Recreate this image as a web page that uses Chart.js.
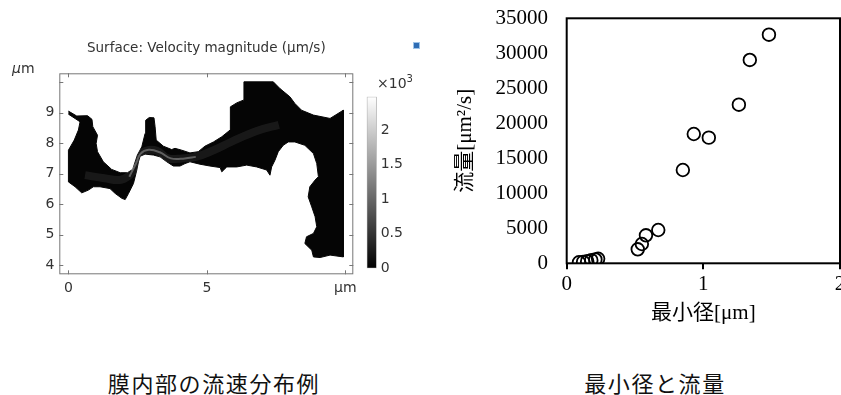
<!DOCTYPE html>
<html>
<head>
<meta charset="utf-8">
<script src="https://cdn.jsdelivr.net/npm/chart.js@4.4.1/dist/chart.umd.min.js"></script>
<style>
  body { margin: 0; width: 841px; height: 395px; background: #fff; position: relative; overflow: hidden; }
  canvas { position: absolute; }
  .txt { position: absolute; white-space: nowrap; }
  .caption { font-family: 'Noto Sans CJK JP', sans-serif; font-size: 22px; letter-spacing: 1.6px; color: #111; transform: translate(-50%, -50%); }
  .comsol { font-family: 'DejaVu Sans', sans-serif; font-size: 14px; color: #333; }
</style>
</head>
<body>
<canvas id="poreChart" width="360" height="300" style="left:0;top:0"></canvas>
<canvas id="barChart" width="70" height="200" style="left:355px;top:80px"></canvas>
<canvas id="flowChart" width="401" height="330" style="left:440px;top:0"></canvas>

<div class="txt comsol" style="left:12px;top:60px"><i>μ</i>m</div>
<div class="txt comsol" style="left:377px;top:73px">×10<sup style="font-size:10px">3</sup></div>
<div class="txt" style="left:413px;top:42px;width:5px;height:5px;background:#2f6db5;border:1px solid #9fc4e8"></div>

<div class="txt caption" style="left:214px;top:382px">膜内部の流速分布例</div>
<div class="txt caption" style="left:655px;top:382px">最小径と流量</div>

<script>
// pore outline (um)
const poreX = [0, 0.30, 0.69, 0.85, 0.88, 1.05, 1.00, 1.05, 1.26, 1.56, 1.87, 2.13, 2.32, 2.41, 2.49, 2.65,
    2.77, 2.79, 2.92, 3.09, 3.13, 3.17, 3.43, 3.73, 3.85, 4.09, 4.39, 4.69, 4.93, 5.24, 5.54, 5.84,
    5.86, 5.84, 6.08, 6.32, 6.34, 7.40, 7.64, 8.00, 8.18, 8.42, 8.85, 9.45, 9.93, 9.93, 9.45, 9.09,
    8.85, 8.79, 8.54, 8.60, 8.85, 8.97, 8.91, 8.79, 8.66, 8.72, 8.91, 9.03, 8.97, 8.85, 8.54, 8.18,
    7.94, 7.76, 7.58, 7.46, 7.34, 7.28, 7.16, 6.80, 6.44, 6.08, 5.72, 5.54, 5.48, 5.11, 4.75, 4.39,
    4.21, 4.03, 3.79, 3.55, 3.31, 3.07, 2.77, 2.59, 2.53, 2.47, 2.35, 2.17, 2.05, 1.93, 1.69, 1.50,
    1.14, 0.90, 0.72, 0.48, 0.24, 0, 0, 0.21, 0.36, 0.42, 0];
const poreY = [9.05, 8.89, 8.90, 8.78, 8.54, 8.26, 7.99, 7.72, 7.39, 7.14, 7.03, 7.03, 7.14, 7.39, 7.61, 7.88,
    8.32, 8.75, 8.84, 8.83, 8.54, 8.10, 7.90, 7.79, 7.83, 7.77, 7.68, 7.72, 7.90, 8.04, 8.21, 8.43,
    8.75, 9.19, 9.32, 9.41, 10.01, 10.01, 9.79, 9.52, 9.30, 9.08, 8.92, 8.81, 9.08, 4.27, 4.33, 4.25,
    4.27, 4.49, 4.71, 4.93, 5.04, 5.26, 5.59, 5.91, 6.24, 6.57, 6.79, 6.90, 7.33, 7.66, 7.93, 8.04,
    8.04, 7.93, 7.72, 7.44, 7.22, 6.95, 7.12, 7.22, 7.28, 7.22, 7.22, 7.06, 7.20, 7.25, 7.31, 7.39,
    7.33, 7.25, 7.25, 7.39, 7.55, 7.61, 7.64, 7.57, 7.39, 7.12, 6.68, 6.35, 6.15, 6.19, 6.35, 6.51,
    6.57, 6.57, 6.46, 6.37, 6.57, 6.73, 7.77, 8.10, 8.43, 8.70, 8.95];

// faster flow path through the narrow channel
const streakX = [0.6, 1.3, 1.9, 2.3, 2.5, 2.8, 3.2, 3.6, 4.1, 4.6, 5.2, 5.9, 6.8, 7.6];
const streakY = [6.95, 6.85, 6.8, 7.05, 7.55, 7.75, 7.75, 7.5, 7.5, 7.55, 7.75, 8.05, 8.4, 8.6];
const fastX = [2.2, 2.45, 2.6, 2.9, 3.3, 3.7, 4.2, 4.6];
const fastY = [6.9, 7.35, 7.65, 7.78, 7.7, 7.5, 7.5, 7.55];

const colorbarMax = 2.48;
const colorbarTicks = [0, 0.5, 1, 1.5, 2];

// minimum diameter [um] vs flow [um2/s]
const minDiameter = [0.09, 0.12, 0.15, 0.18, 0.21, 0.23, 0.52, 0.55, 0.58, 0.67, 0.85, 0.93, 1.04, 1.26, 1.34, 1.48];
const flowRate = [150, 200, 300, 450, 550, 650, 2000, 2760, 4000, 4760, 13330, 18470, 17950, 22660, 29050, 32660];

const toPoints = (xs, ys) => xs.map((x, i) => ({ x: x, y: ys[i] }));

const fixWidth = (w) => (scale) => { scale.width = w; scale.paddingTop = 0; scale.paddingBottom = 0; };
const fixHeight = (h) => (scale) => { scale.height = h; scale.paddingLeft = 0; scale.paddingRight = 0; };

const comsolFont = { family: "'DejaVu Sans', sans-serif", size: 14 };

// frame with small inner ticks, like the comsol plot
const comsolFrame = {
    id: 'comsolFrame',
    afterDraw(chart) {
        const { ctx, chartArea: a, scales: { x, y } } = chart;
        ctx.save();
        ctx.strokeStyle = '#777';
        ctx.lineWidth = 1;
        ctx.strokeRect(a.left + 0.5, a.top + 0.5, a.width - 1, a.height - 1);
        ctx.beginPath();
        x.ticks.forEach((t) => {
            const px = Math.round(x.getPixelForValue(t.value)) + 0.5;
            ctx.moveTo(px, a.bottom); ctx.lineTo(px, a.bottom - 4);
            ctx.moveTo(px, a.top); ctx.lineTo(px, a.top + 4);
        });
        y.ticks.forEach((t) => {
            const py = Math.round(y.getPixelForValue(t.value)) + 0.5;
            ctx.moveTo(a.left, py); ctx.lineTo(a.left + 4, py);
            ctx.moveTo(a.right, py); ctx.lineTo(a.right - 4, py);
        });
        ctx.stroke();
        ctx.restore();
    },
};

new Chart(document.getElementById('poreChart'), {
    type: 'scatter',
    data: {
        datasets: [
            {
                data: toPoints(poreX, poreY),
                order: 3,
                showLine: true,
                fill: 'shape',
                backgroundColor: '#050505',
                borderColor: '#050505',
                borderWidth: 1,
                pointRadius: 0,
            },
            {
                data: toPoints(streakX, streakY),
                order: 2,
                showLine: true,
                tension: 0.4,
                borderColor: 'rgba(255,255,255,0.08)',
                borderWidth: 8,
                pointRadius: 0,
            },
            {
                data: toPoints(fastX, fastY),
                order: 1,
                showLine: true,
                tension: 0.4,
                borderColor: 'rgba(230,230,230,0.35)',
                borderWidth: 2,
                pointRadius: 0,
            },
        ],
    },
    options: {
        responsive: false,
        animation: false,
        layout: { autoPadding: false, padding: { left: 0, right: 6.7, top: 40, bottom: 0 } },
        plugins: {
            legend: { display: false },
            tooltip: { enabled: false },
            title: {
                display: true,
                text: 'Surface: Velocity magnitude (μm/s)',
                fullSize: false,
                color: '#333',
                font: { family: "'DejaVu Sans', sans-serif", size: 13.5, weight: 'normal' },
                padding: { top: 0, bottom: 17.1 },
            },
        },
        scales: {
            x: {
                min: -0.33,
                max: 10.29,
                afterFit: fixHeight(25.7),
                grid: { display: false, drawTicks: false },
                border: { display: false },
                ticks: {
                    stepSize: 5,
                    includeBounds: false,
                    padding: 6,
                    color: '#333',
                    font: comsolFont,
                    callback: (v) => (v === 10 ? 'μm' : v),
                },
            },
            y: {
                min: 3.7,
                max: 10.29,
                afterFit: fixWidth(59.3),
                grid: { display: false, drawTicks: false },
                border: { display: false },
                ticks: {
                    stepSize: 1,
                    includeBounds: false,
                    padding: 5,
                    color: '#333',
                    font: comsolFont,
                    callback: (v) => (v === 10 ? '' : v),
                },
            },
        },
    },
    plugins: [comsolFrame],
});

new Chart(document.getElementById('barChart'), {
    type: 'bar',
    data: {
        labels: [''],
        datasets: [{
            data: [colorbarMax],
            barPercentage: 1,
            categoryPercentage: 1,
            borderColor: '#aaa',
            borderWidth: 1,
            borderSkipped: false,
            backgroundColor: (ctx) => {
                const a = ctx.chart.chartArea;
                if (!a) return '#000';
                const g = ctx.chart.ctx.createLinearGradient(0, a.bottom, 0, a.top);
                g.addColorStop(0, '#000');
                g.addColorStop(1, '#fff');
                return g;
            },
        }],
    },
    options: {
        responsive: false,
        animation: false,
        layout: { autoPadding: false, padding: { left: 11.7, right: 0, top: 16.7, bottom: 11.7 } },
        plugins: { legend: { display: false }, tooltip: { enabled: false } },
        scales: {
            x: { display: false },
            y: {
                position: 'right',
                min: 0,
                max: colorbarMax,
                afterFit: fixWidth(48.3),
                afterBuildTicks: (scale) => { scale.ticks = colorbarTicks.map((v) => ({ value: v })); },
                grid: { display: false, drawTicks: false },
                border: { display: false },
                ticks: { padding: 4, color: '#333', font: comsolFont, callback: (v) => String(v) },
            },
        },
    },
});

const serif = "'Liberation Serif', 'Times New Roman', 'Noto Sans CJK JP', serif";

// box around the plot area
const boxFrame = {
    id: 'boxFrame',
    beforeDatasetsDraw(chart) {
        const { ctx, chartArea: a } = chart;
        ctx.save();
        ctx.strokeStyle = '#000';
        ctx.lineWidth = 2;
        ctx.strokeRect(a.left, a.top, a.width, a.height);
        ctx.restore();
    },
};

new Chart(document.getElementById('flowChart'), {
    type: 'scatter',
    data: {
        datasets: [{
            data: toPoints(minDiameter, flowRate),
            pointStyle: 'circle',
            pointRadius: 6.3,
            borderWidth: 1.8,
            borderColor: '#000',
            backgroundColor: 'rgba(0,0,0,0)',
        }],
    },
    options: {
        responsive: false,
        animation: false,
        layout: { autoPadding: false, padding: { left: 0, right: 1, top: 18.3, bottom: 0 } },
        plugins: { legend: { display: false }, tooltip: { enabled: false } },
        scales: {
            x: {
                min: 0,
                max: 2,
                afterFit: fixHeight(66.7),
                border: { display: false },
                grid: { drawOnChartArea: false, drawTicks: true, tickLength: 6, color: '#000', lineWidth: 2 },
                ticks: { stepSize: 1, padding: 3, color: '#000', font: { family: serif, size: 21 } },
                title: {
                    display: true,
                    text: '最小径[μm]',
                    color: '#000',
                    font: { family: serif, size: 21 },
                    padding: { top: 0, bottom: 4.4 },
                },
            },
            y: {
                min: 0,
                max: 35000,
                afterFit: fixWidth(126.7),
                border: { display: false },
                grid: { display: false, drawTicks: false },
                ticks: {
                    stepSize: 5000,
                    padding: 18.7,
                    color: '#000',
                    font: { family: serif, size: 21 },
                    callback: (v) => String(v),
                },
                title: {
                    display: true,
                    text: '流量[μm²/s]',
                    color: '#000',
                    font: { family: serif, size: 21 },
                    padding: { top: 12.4, bottom: 0 },
                },
            },
        },
    },
    plugins: [boxFrame],
});
</script>
</body>
</html>
